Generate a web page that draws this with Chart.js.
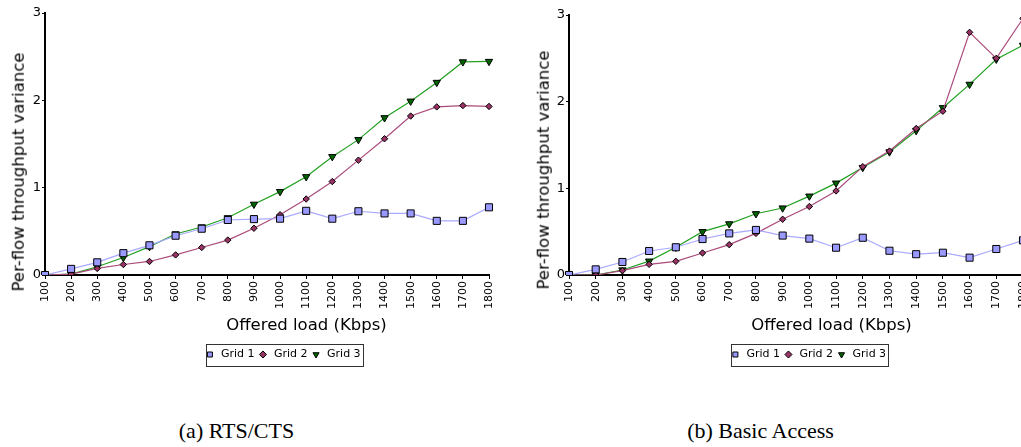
<!DOCTYPE html>
<html>
<head>
<meta charset="utf-8">
<script src="https://cdn.jsdelivr.net/npm/chart.js@4.4.1/dist/chart.umd.min.js"></script>
<style>
html, body { margin: 0; padding: 0; background: #fff; }
body { width: 1021px; height: 447px; overflow: hidden; position: relative; font-family: 'DejaVu Sans', sans-serif; }
canvas { position: absolute; top: 0; }
.xt, .yt { position: absolute; font-family: 'DejaVu Sans', sans-serif; font-size: 16.5px; line-height: 1; white-space: nowrap; color: #000; }
.xt { transform: translateX(-50%); }
.yt { transform: translate(-50%, -50%) rotate(-90deg); }
.cap { position: absolute; font-family: 'Liberation Serif', 'Times New Roman', serif; font-size: 22px; line-height: 22px; white-space: nowrap; color: #000; transform: translateX(-50%); }
</style>
</head>
<body>
<canvas id="c1" width="565" height="370" style="left:0px"></canvas>
<canvas id="c2" width="576" height="370" style="left:520px"></canvas>
<div class="yt" style="left:18.5px; top:172px">Per-flow throughput variance</div>
<div class="yt" style="left:544px; top:170px">Per-flow throughput variance</div>
<div class="xt" style="left:306.5px; top:317px">Offered load (Kbps)</div>
<div class="xt" style="left:831.5px; top:317px">Offered load (Kbps)</div>
<div class="cap" style="left:236.5px; top:420px">(a) RTS/CTS</div>
<div class="cap" style="left:760.5px; top:420px">(b) Basic Access</div>
<script>
// ---- data ----
const loads = ['100','200','300','400','500','600','700','800','900','1000','1100','1200','1300','1400','1500','1600','1700','1800'];
const seriesNames = ['Grid 1', 'Grid 2', 'Grid 3'];

// (a) RTS/CTS
const rtsGrid1 = [0, 0.07, 0.145, 0.25, 0.34, 0.45, 0.53, 0.63, 0.64, 0.645, 0.735, 0.645, 0.73, 0.705, 0.705, 0.62, 0.62, 0.775];
const rtsGrid2 = [0, 0.01, 0.075, 0.12, 0.155, 0.23, 0.315, 0.40, 0.535, 0.69, 0.87, 1.07, 1.315, 1.56, 1.82, 1.925, 1.94, 1.93];
const rtsGrid3 = [0, 0.01, 0.095, 0.20, 0.325, 0.47, 0.55, 0.655, 0.81, 0.955, 1.125, 1.355, 1.55, 1.80, 1.99, 2.205, 2.44, 2.445];

// (b) Basic Access
const basicGrid1 = [0, 0.065, 0.15, 0.277, 0.32, 0.415, 0.48, 0.52, 0.455, 0.42, 0.315, 0.43, 0.28, 0.24, 0.257, 0.20, 0.30, 0.40];
const basicGrid2 = [0, 0.0, 0.05, 0.123, 0.158, 0.254, 0.35, 0.48, 0.643, 0.79, 0.97, 1.25, 1.43, 1.69, 1.89, 2.80, 2.50, 2.96];
const basicGrid3 = [0, 0.0, 0.058, 0.16, 0.32, 0.50, 0.59, 0.707, 0.773, 0.91, 1.06, 1.24, 1.42, 1.665, 1.93, 2.20, 2.49, 2.65];

const yMin = 0, yMax = 3, yStep = 1;

// ---- styling ----
Chart.defaults.font.family = "'DejaVu Sans', sans-serif";
Chart.defaults.color = '#000';

const legendBorder = {
  id: 'legendBorder',
  afterDraw(chart) {
    const lg = chart.legend;
    if (!lg || !lg.legendHitBoxes || !lg.legendHitBoxes.length) return;
    const hb = lg.legendHitBoxes;
    const last = hb[hb.length - 1];
    const l = hb[0].left + 1.5;
    const r = last.left + last.width + 2;
    const cy = hb[0].top + hb[0].height / 2;
    const ctx = chart.ctx;
    ctx.save();
    ctx.strokeStyle = '#333';
    ctx.lineWidth = 1;
    ctx.strokeRect(Math.round(l) + 0.5, Math.round(cy - 11) + 0.5, Math.round(r - l), 22);
    ctx.restore();
  }
};

function makeChart(id, s1, s2, s3, yWidth, padTop, padRight) {
  return new Chart(document.getElementById(id), {
    type: 'line',
    data: {
      labels: loads,
      datasets: [
        { label: seriesNames[0], data: s1, borderColor: '#a9a9ff', backgroundColor: '#9999ff',
          pointBackgroundColor: '#9999ff', pointBorderColor: '#000', pointBorderWidth: 1,
          pointStyle: 'rect', pointRadius: 5, borderWidth: 1.2, tension: 0 },
        { label: seriesNames[1], data: s2, borderColor: '#ab4a7b', backgroundColor: '#993366',
          pointBackgroundColor: '#993366', pointBorderColor: '#000', pointBorderWidth: 1,
          pointStyle: 'rectRot', pointRadius: 3.2, borderWidth: 1.2, tension: 0 },
        { label: seriesNames[2], data: s3, borderColor: '#22a022', backgroundColor: '#006600',
          pointBackgroundColor: '#006600', pointBorderColor: '#000', pointBorderWidth: 1,
          pointStyle: 'triangle', pointRotation: 180, pointRadius: 4.2, borderWidth: 1.2, tension: 0 }
      ]
    },
    options: {
      responsive: false,
      animation: false,
      devicePixelRatio: 1,
      layout: { padding: { top: padTop, left: 0, right: 0, bottom: 0 } },
      scales: {
        x: {
          type: 'category',
          offset: false,
          grid: { display: true, drawOnChartArea: false, drawTicks: true, tickLength: 4, color: '#000', lineWidth: 1 },
          border: { display: true, color: '#000', width: 2 },
          ticks: { autoSkip: false, minRotation: 90, maxRotation: 90, padding: 2, color: '#000',
                   font: { size: 11 } },
          afterFit(s) { s.height = 71; s.paddingLeft = 0; s.paddingRight = padRight; }
        },
        y: {
          min: yMin, max: yMax,
          grid: { display: true, drawOnChartArea: false, drawTicks: true, tickLength: 3, color: '#000', lineWidth: 1 },
          border: { display: true, color: '#000', width: 2 },
          ticks: { stepSize: yStep, padding: 1, color: '#000', font: { size: 13 } },
          afterFit(s) { s.width = yWidth; s.paddingTop = 0; s.paddingBottom = 0; }
        }
      },
      plugins: {
        legend: {
          position: 'bottom',
          labels: { usePointStyle: true, boxWidth: 11, boxHeight: 5, padding: 3, color: '#000',
                    font: { size: 11 } }
        },
        tooltip: { enabled: false },
        title: { display: false }
      }
    },
    plugins: [legendBorder]
  });
}

makeChart('c1', rtsGrid1, rtsGrid2, rtsGrid3, 45, 13, 76);
makeChart('c2', basicGrid1, basicGrid2, basicGrid3, 49, 15, 73);
</script>
</body>
</html>
